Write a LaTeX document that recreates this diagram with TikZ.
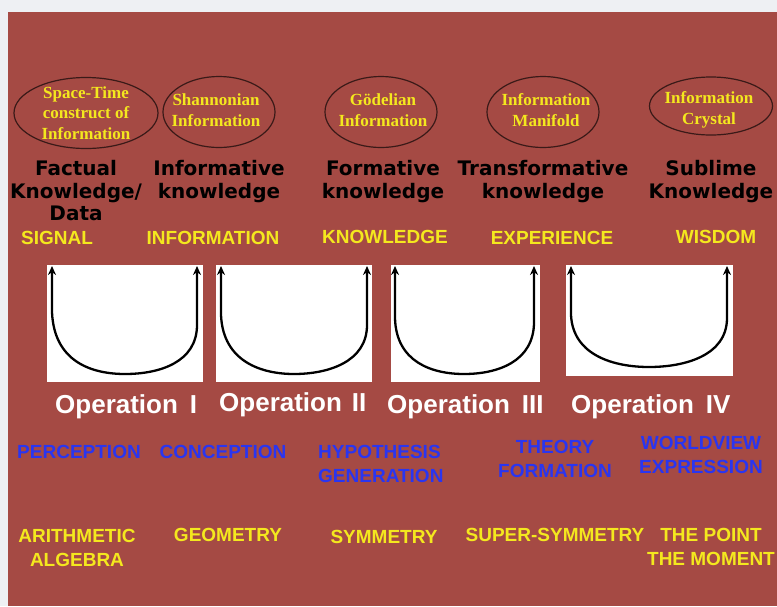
\documentclass[tikz,border=0pt]{standalone}
\usepackage{fontspec}
\setmainfont{Liberation Serif}
\setsansfont{Liberation Sans}
\newfontfamily\handfont{DejaVu Sans}
\usetikzlibrary{shapes.geometric,arrows.meta}
\definecolor{bgred}{HTML}{A54A44}
\definecolor{framegrey}{HTML}{EEF0F3}
\definecolor{ylw}{HTML}{F4E81E}
\definecolor{blu}{HTML}{2A35F0}
\definecolor{ovalline}{HTML}{3A1A18}
\begin{document}
\begin{tikzpicture}[x=1pt,y=-1pt,
  oval/.style={draw=ovalline, line width=1.2pt, ellipse, inner sep=0},
  ovaltxt/.style={text=ylw, font=\bfseries\fontsize{17}{20.5}\selectfont, align=center, inner sep=0},
  hand/.style={text=black, font=\handfont\bfseries\fontsize{20}{23}\selectfont, align=center, inner sep=0, anchor=north},
  stage/.style={text=ylw, font=\sffamily\bfseries\fontsize{19}{22}\selectfont, inner sep=0},
  wbox/.style={fill=white, inner sep=0, anchor=north west},
  op/.style={text=white, font=\sffamily\bfseries\fontsize{26}{28}\selectfont, inner sep=0, anchor=base west},
  proc/.style={text=blu, font=\sffamily\bfseries\fontsize{19}{24}\selectfont, align=center, inner sep=0},
  field/.style={text=ylw, font=\sffamily\bfseries\fontsize{19}{24}\selectfont, align=center, inner sep=0},
  uarrow/.style={line width=2.3pt, {Stealth[length=9pt,width=8pt]}-{Stealth[length=9pt,width=8pt]}}
]
\useasboundingbox (0,0) rectangle (777,606);
\fill[framegrey] (0,0) rectangle (777,606);
\fill[bgred] (8,12) rectangle (777,606);

% ellipses
\node[oval, minimum width=144pt, minimum height=71pt] (e1) at (86,113) {};
\node[oval, minimum width=112pt, minimum height=71pt] (e2) at (219,112) {};
\node[oval, minimum width=112pt, minimum height=71pt] (e3) at (381,112) {};
\node[oval, minimum width=112pt, minimum height=71pt] (e4) at (543,112) {};
\node[oval, minimum width=123pt, minimum height=58pt] (e5) at (711,106) {};
\node[ovaltxt] (t1) at (86,113) {Space-Time\\construct of\\Information};
\node[ovaltxt] (t2) at (216,110) {Shannonian\\Information};
\node[ovaltxt] (t3) at (383,110) {Gödelian\\Information};
\node[ovaltxt] (t4) at (546,110) {Information\\Manifold};
\node[ovaltxt] (t5) at (709,110) {Information\\Crystal};

% handwritten
\node[hand] (h1) at (76,160) {Factual\\Knowledge/\\[-1pt]Data};
\node[hand] (h2) at (219,160) {Informative\\knowledge};
\node[hand] (h3) at (383,160) {Formative\\knowledge};
\node[hand] (h4) at (543,160) {Transformative\\knowledge};
\node[hand] (h5) at (711,160) {Sublime\\Knowledge};

% stages
\node[stage] (s1) at (57,238) {SIGNAL};
\node[stage] (s2) at (213,238) {INFORMATION};
\node[stage] (s3) at (385,237) {KNOWLEDGE};
\node[stage] (s4) at (552,238) {EXPERIENCE};
\node[stage] (s5) at (716,237) {WISDOM};

% white boxes
\node[wbox, minimum width=156pt, minimum height=117pt] (b1) at (47,265) {};
\node[wbox, minimum width=156pt, minimum height=117pt] (b2) at (216,265) {};
\node[wbox, minimum width=149pt, minimum height=117pt] (b3) at (391,265) {};
\node[wbox, minimum width=167pt, minimum height=111pt] (b4) at (566,265) {};

% U arrows
\coordinate (u1l) at (52,266); \coordinate (u1r) at (197,266);
\coordinate (u2l) at (221,266); \coordinate (u2r) at (367,266);
\coordinate (u3l) at (395,266); \coordinate (u3r) at (534,266);
\coordinate (u4l) at (571,266); \coordinate (u4r) at (727,266);
\draw[uarrow] (u1l) -- (52,312) .. controls (54,362) and (92,374) .. (125,374) .. controls (160,374) and (197,362) .. (197,325) -- (u1r);
\draw[uarrow] (u2l) -- (221,315) .. controls (223,362) and (262,374) .. (294,374) .. controls (328,374) and (367,362) .. (367,325) -- (u2r);
\draw[uarrow] (u3l) -- (395,318) .. controls (396,362) and (432,374) .. (464,374) .. controls (497,374) and (534,362) .. (534,322) -- (u3r);
\draw[uarrow] (u4l) -- (571,315) .. controls (573,356) and (615,367) .. (649,367) .. controls (684,367) and (727,356) .. (727,318) -- (u4r);

% operations
\node[op] (o1) at (55,413) {Operation\hspace{12pt}I};
\node[op] (o2) at (219,411) {Operation\hspace{10pt}II};
\node[op] (o3) at (387,413) {Operation\hspace{12pt}III};
\node[op] (o4) at (571,413) {Operation\hspace{12pt}IV};

% processes
\node[proc] (p1) at (79,452) {PERCEPTION};
\node[proc] (p2) at (223,452) {CONCEPTION};
\node[proc, align=left, anchor=west] (p3) at (318,464) {HYPOTHESIS\\GENERATION};
\node[proc] (p4) at (555,459) {THEORY\\FORMATION};
\node[proc] (p5) at (701,455) {WORLDVIEW\\EXPRESSION};

% fields
\node[field] (f1) at (77,548) {ARITHMETIC\\ALGEBRA};
\node[field] (f2) at (228,535) {GEOMETRY};
\node[field] (f3) at (384,537) {SYMMETRY};
\node[field] (f4) at (555,535) {SUPER-SYMMETRY};
\node[field] (f5) at (711,547) {THE POINT\\THE MOMENT};
\end{tikzpicture}
\end{document}
